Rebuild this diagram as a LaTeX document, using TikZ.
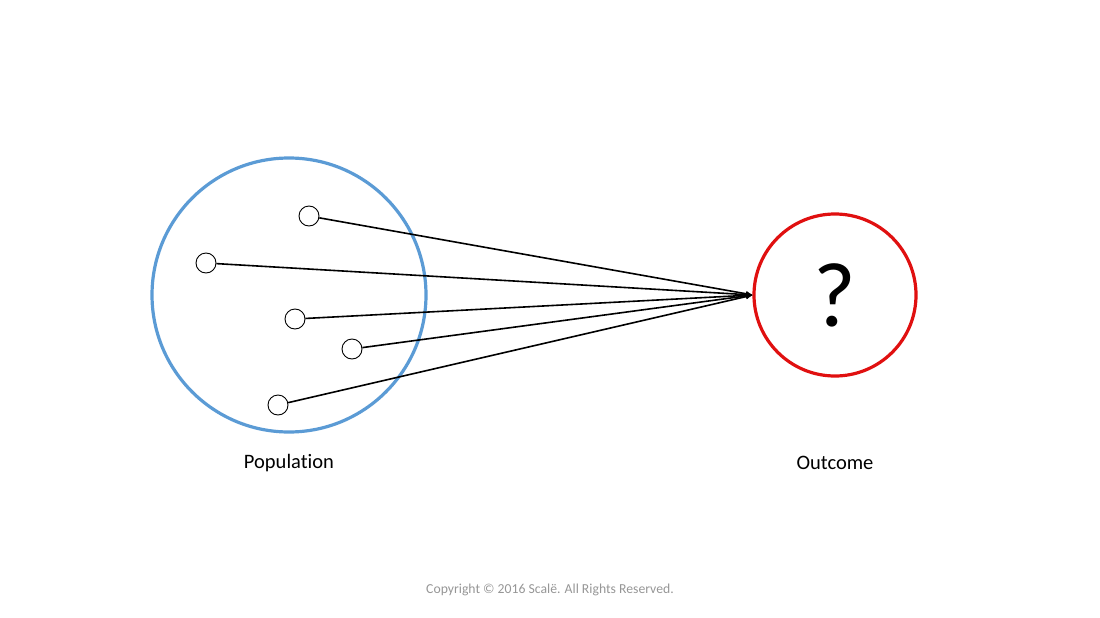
\documentclass[tikz,border=0pt]{standalone}
\usepackage{fontspec}
\setmainfont[Ligatures=NoCommon]{Carlito}
\usetikzlibrary{arrows.meta}
\definecolor{popblue}{RGB}{91,155,213}
\definecolor{outred}{RGB}{224,16,16}
\definecolor{copygray}{RGB}{150,150,150}
\begin{document}
\begin{tikzpicture}[x=1pt,y=-1pt,
  member/.style={circle,draw=black,line width=0.9pt,minimum size=20pt,inner sep=0pt,fill=white},
  link/.style={line width=1.6pt,-{Latex[length=7pt,width=6pt]}},
  lbl/.style={font=\fontsize{20.5}{22}\selectfont}]
\useasboundingbox (0,0) rectangle (1100,618);
\node[circle,draw=popblue,line width=3.2pt,minimum size=274pt,inner sep=0pt] (pop) at (289,295) {};
\node[circle,draw=outred,line width=3.2pt,minimum size=162pt,inner sep=0pt,font=\fontsize{92}{94}\selectfont] (out) at (835,295) {?};
\coordinate (tip) at (753,295);
\node[member] (m1) at (309,216) {};
\node[member] (m2) at (206,263) {};
\node[member] (m3) at (295,319) {};
\node[member] (m4) at (352,349) {};
\node[member] (m5) at (278,405) {};
\foreach \m in {m1,m2,m3,m4,m5} \draw[link] (\m) -- (tip);
\node[lbl] (plabel) at (289,463) {Population};
\node[lbl] (olabel) at (835,463) {Outcome};
\node[font=\fontsize{13.7}{15}\selectfont,text=copygray] (copy) at (550,590) {Copyright © 2016 Scalë. All Rights Reserved.};
\end{tikzpicture}
\end{document}
